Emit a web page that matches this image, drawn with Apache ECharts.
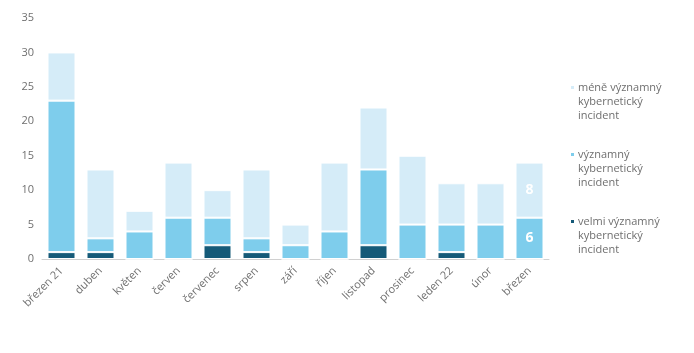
<!DOCTYPE html>
<html>
<head>
<meta charset="utf-8">
<script src="https://cdn.jsdelivr.net/npm/echarts@6/dist/echarts.min.js"></script>
<style>
  html, body { margin: 0; padding: 0; background: #fff; }
  #chart { width: 694px; height: 353px; }
</style>
</head>
<body>
<div id="chart"></div>
<script>
var months = ['březen 21', 'duben', 'květen', 'červen', 'červenec', 'srpen', 'září', 'říjen', 'listopad', 'prosinec', 'leden 22', 'únor', 'březen'];
var velmi = [1, 1, 0, 0, 2, 1, 0, 0, 2, 0, 1, 0, 0];
var vyznamny = [22, 2, 4, 6, 4, 2, 2, 4, 11, 5, 4, 5, 6];
var mene = [7, 10, 3, 8, 4, 10, 3, 10, 9, 10, 6, 6, 8];
var yTicks = [0, 5, 10, 15, 20, 25, 30, 35];

// label only the last bar, like the source
function lastOnly(p) {
  return p.dataIndex === months.length - 1 ? p.value : '';
}

// square at the top of a tall box so it lines up with the first text line
var legendIcon = 'path://M0,0h0.01v0.01h-0.01z M0,4h5v5h-5z M0,41.99h0.01v0.01h-0.01z';

var myChart = echarts.init(document.getElementById('chart'));

var option = {
  animation: false,
  textStyle: { fontFamily: 'Open Sans' },
  grid: { left: 42, right: 145, top: 18, bottom: 94 },
  legend: {
    orient: 'vertical',
    left: 564,
    top: 75,
    icon: legendIcon,
    itemWidth: 5,
    itemHeight: 42,
    itemGap: 23,
    selectedMode: false,
    data: ['méně významný\nkybernetický\nincident', 'významný\nkybernetický\nincident', 'velmi významný\nkybernetický\nincident'],
    textStyle: { color: '#6f6f6f', fontSize: 11, lineHeight: 14, padding: [0, 0, 0, -2] }
  },
  xAxis: {
    type: 'category',
    data: months,
    axisLine: { lineStyle: { color: '#d0d0d0' } },
    axisTick: { show: false },
    axisLabel: { rotate: 45, color: '#6f6f6f', fontSize: 11, interval: 0, margin: 10 }
  },
  yAxis: {
    type: 'value',
    min: yTicks[0],
    max: yTicks[yTicks.length - 1],
    interval: 5,
    splitLine: { show: false },
    axisLine: { show: false },
    axisTick: { show: false },
    axisLabel: { color: '#6f6f6f', fontSize: 11, margin: 8 }
  },
  series: [
    {
      name: 'velmi významný\nkybernetický\nincident',
      type: 'bar',
      stack: 'total',
      barWidth: 28,
      data: velmi,
      itemStyle: { color: '#155a78', borderColor: '#fff', borderWidth: 1 }
    },
    {
      name: 'významný\nkybernetický\nincident',
      type: 'bar',
      stack: 'total',
      data: vyznamny,
      itemStyle: { color: '#7ecdec', borderColor: '#fff', borderWidth: 1 },
      label: { show: true, formatter: lastOnly, color: '#fff', fontWeight: 'bold', fontSize: 14 }
    },
    {
      name: 'méně významný\nkybernetický\nincident',
      type: 'bar',
      stack: 'total',
      data: mene,
      itemStyle: { color: '#d5ecf8', borderColor: '#fff', borderWidth: 1 },
      label: { show: true, formatter: lastOnly, color: '#fff', fontWeight: 'bold', fontSize: 14 }
    }
  ]
};

myChart.setOption(option);
</script>
</body>
</html>
